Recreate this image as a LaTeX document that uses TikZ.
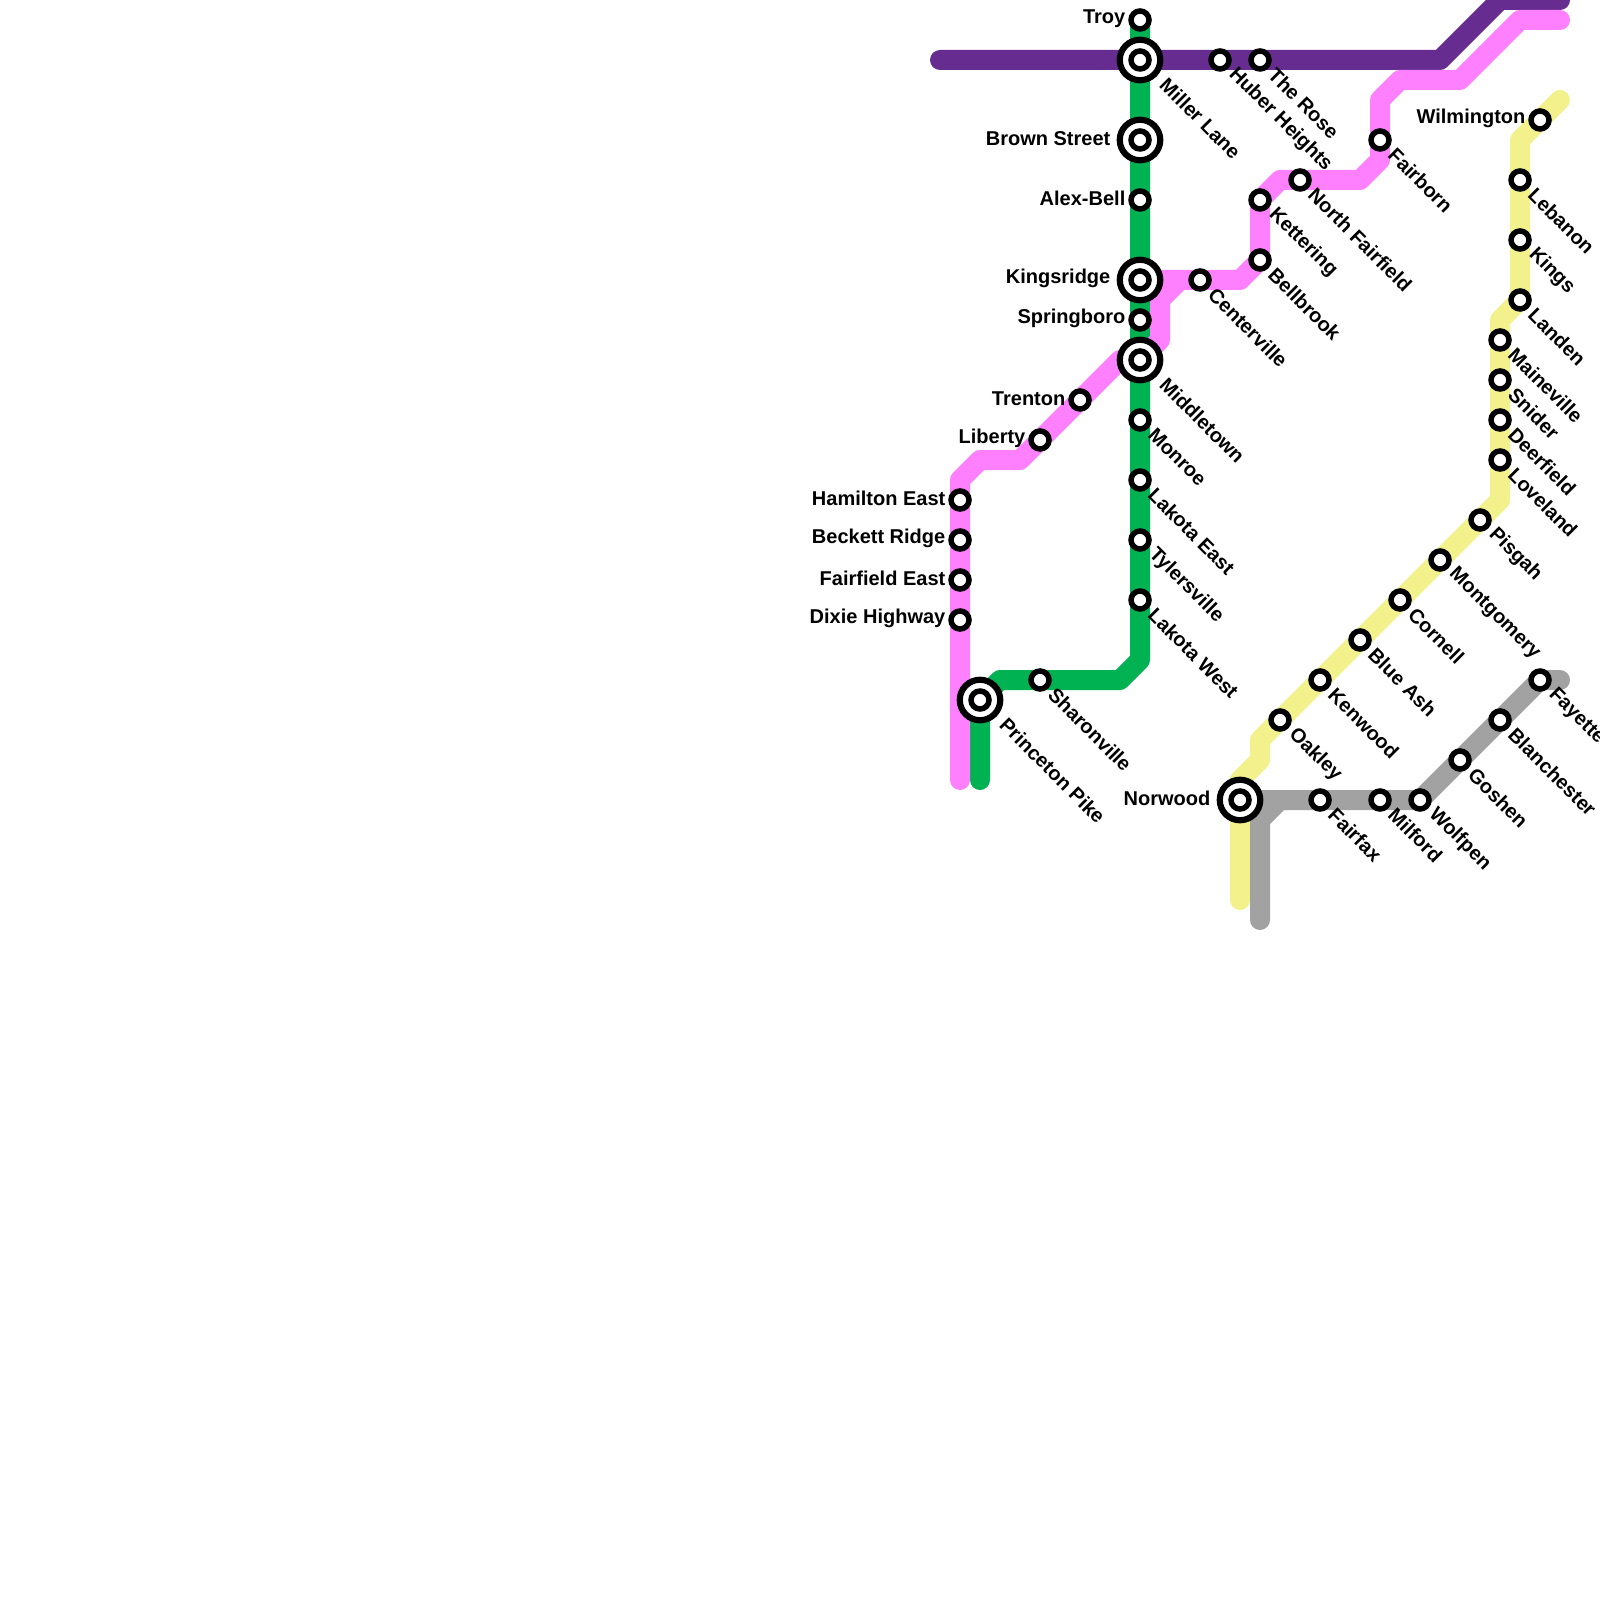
\documentclass[tikz,border=0pt]{standalone}
\usepackage{fontspec}
\setmainfont{Liberation Sans}
\usetikzlibrary{backgrounds}

\definecolor{linePurple}{HTML}{662C90}
\definecolor{lineGreen}{HTML}{00B251}
\definecolor{linePink}{HTML}{FF80FF}
\definecolor{lineGray}{HTML}{A2A2A2}
\definecolor{lineYellow}{HTML}{F3F18C}

\begin{document}
\begin{tikzpicture}[
        x=2mm, y=-2mm,
        stn/.style={circle, draw=black, fill=white, line width=0.55mm, minimum size=1.8mm, inner sep=0pt},
        stnRing/.style={circle, draw=black, fill=white, line width=0.62mm, minimum size=4.05mm, inner sep=0pt},
        lblFont/.style={font=\bfseries\fontsize{5.69pt}{6pt}\selectfont, inner sep=0pt, text=black},
        lblR/.style={lblFont, xshift=1.15mm, yshift=-1.1mm, rotate=-45, anchor=west},
        lblRing/.style={lblFont, xshift=2.3mm, yshift=-2.1mm, rotate=-45, anchor=west},
        lblL/.style={lblFont, xshift=-1.4mm, yshift=0.12mm, anchor=east},
        lblRingL/.style={lblFont, xshift=-2.9mm, yshift=0.12mm, anchor=east},
        metro/.style={line width=2mm, line cap=round, line join=round}
        ]
        \useasboundingbox (0,0) rectangle (80,80);

        % green line
        \node [stn] (troy) at (57,1) {};
        \node [stnRing] (millerRing) at (57,3) {};
        \node [stn] (miller) at (57,3) {};
        \node [stnRing] (brownRing) at (57,7) {};
        \node [stn] (brown) at (57,7) {};
        \node [stn] (alexbell) at (57,10) {};
        \node [stnRing] (kingsridgeRing) at (57,14) {};
        \node [stn] (kingsridge) at (57,14) {};
        \node [stn] (springboro) at (57,16) {};
        \node [stnRing] (middletownRing) at (57,18) {};
        \node [stn] (middletown) at (57,18) {};
        \node [stn] (monroe) at (57,21) {};
        \node [stn] (lakotaE) at (57,24) {};
        \node [stn] (tylersville) at (57,27) {};
        \node [stn] (lakotaW) at (57,30) {};
        \node [stn] (sharonville) at (52,34) {};
        \node [stnRing] (princetonRing) at (49,35) {};
        \node [stn] (princeton) at (49,35) {};

        % purple line
        \node [stn] (huber) at (61,3) {};
        \node [stn] (rose) at (63,3) {};

        % pink line
        \node [stn] (fairborn) at (69,7) {};
        \node [stn] (fairfieldN) at (65,9) {};
        \node [stn] (kettering) at (63,10) {};
        \node [stn] (bellbrook) at (63,13) {};
        \node [stn] (centerville) at (60,14) {};
        \node [stn] (trenton) at (54,20) {};
        \node [stn] (liberty) at (52,22) {};
        \node [stn] (hamilton) at (48,25) {};
        \node [stn] (beckett) at (48,27) {};
        \node [stn] (fairfieldE) at (48,29) {};
        \node [stn] (dixie) at (48,31) {};

        % yellow line
        \node [stn] (wilmington) at (77,6) {};
        \node [stn] (lebanon) at (76,9) {};
        \node [stn] (kings) at (76,12) {};
        \node [stn] (landen) at (76,15) {};
        \node [stn] (maineville) at (75,17) {};
        \node [stn] (snider) at (75,19) {};
        \node [stn] (deerfield) at (75,21) {};
        \node [stn] (loveland) at (75,23) {};
        \node [stn] (pisgah) at (74,26) {};
        \node [stn] (montgomery) at (72,28) {};
        \node [stn] (cornell) at (70,30) {};
        \node [stn] (blueash) at (68,32) {};
        \node [stn] (kenwood) at (66,34) {};
        \node [stn] (oakley) at (64,36) {};
        \node [stnRing] (norwoodRing) at (62,40) {};
        \node [stn] (norwood) at (62,40) {};

        % gray line
        \node [stn] (fairfax) at (66,40) {};
        \node [stn] (milford) at (69,40) {};
        \node [stn] (wolfpen) at (71,40) {};
        \node [stn] (goshen) at (73,38) {};
        \node [stn] (blanchester) at (75,36) {};
        \node [stn] (fayetteville) at (77,34) {};

        \begin{scope}[on background layer]
        \draw[metro, lineGreen] (troy.center) -- (lakotaW.center) -- (57,33) -- (56,34) -- (sharonville.center) -- (50,34) -- (princeton.center) -- (49,39);
        \draw[metro, linePurple] (47,3) -- (miller.center) -- (huber.center) -- (rose.center) -- (72,3) -- (75,0) -- (78,0);
        \draw[metro, linePink] (78,1) -- (76,1) -- (73,4) -- (70,4) -- (69,5) -- (fairborn.center) -- (69,8) -- (68,9) -- (fairfieldN.center) -- (64,9) -- (kettering.center) -- (bellbrook.center) -- (62,14) -- (centerville.center) -- (kingsridge.center);
        \draw[metro, linePink] (59,14) -- (58,15) -- (58,17) -- (middletown.center) -- (56,18) -- (trenton.center) -- (liberty.center) -- (51,23) -- (49,23) -- (48,24) -- (hamilton.center) -- (dixie.center) -- (48,39);
        \draw[metro, lineYellow] (78,5) -- (wilmington.center) -- (76,7) -- (lebanon.center) -- (landen.center) -- (75,16) -- (maineville.center) -- (loveland.center) -- (75,25) -- (pisgah.center) -- (oakley.center) -- (63,37) -- (63,38) -- (62,39) -- (norwood.center) -- (62,45);
        \draw[metro, lineGray] (78,34) -- (fayetteville.center) -- (wolfpen.center) -- (norwood.center);
        \draw[metro, lineGray] (64,40) -- (63,41) -- (63,46);
        \end{scope}

        % labels
        \node [lblL] (troyT) at (troy) {Troy};
        \node [lblRing] (millerT) at (miller) {Miller Lane};
        \node [lblRingL] (brownT) at (brown) {Brown Street};
        \node [lblL] (alexbellT) at (alexbell) {Alex-Bell};
        \node [lblRingL] (kingsridgeT) at (kingsridge) {Kingsridge};
        \node [lblL] (springboroT) at (springboro) {Springboro};
        \node [lblRing] (middletownT) at (middletown) {Middletown};
        \node [lblR] (monroeT) at (monroe) {Monroe};
        \node [lblR] (lakotaET) at (lakotaE) {Lakota East};
        \node [lblR] (tylersvilleT) at (tylersville) {Tylersville};
        \node [lblR] (lakotaWT) at (lakotaW) {Lakota West};
        \node [lblR] (sharonvilleT) at (sharonville) {Sharonville};
        \node [lblRing] (princetonT) at (princeton) {Princeton Pike};
        \node [lblR] (huberT) at (huber) {Huber Heights};
        \node [lblR] (roseT) at (rose) {The Rose};
        \node [lblR] (fairbornT) at (fairborn) {Fairborn};
        \node [lblR] (fairfieldNT) at (fairfieldN) {North Fairfield};
        \node [lblR] (ketteringT) at (kettering) {Kettering};
        \node [lblR] (bellbrookT) at (bellbrook) {Bellbrook};
        \node [lblR] (centervilleT) at (centerville) {Centerville};
        \node [lblL] (trentonT) at (trenton) {Trenton};
        \node [lblL] (libertyT) at (liberty) {Liberty};
        \node [lblL] (hamiltonT) at (hamilton) {Hamilton East};
        \node [lblL] (beckettT) at (beckett) {Beckett Ridge};
        \node [lblL] (fairfieldET) at (fairfieldE) {Fairfield East};
        \node [lblL] (dixieT) at (dixie) {Dixie Highway};
        \node [lblL] (wilmingtonT) at (wilmington) {Wilmington};
        \node [lblR] (lebanonT) at (lebanon) {Lebanon};
        \node [lblR] (kingsT) at (kings) {Kings};
        \node [lblR] (landenT) at (landen) {Landen};
        \node [lblR] (mainevilleT) at (maineville) {Maineville};
        \node [lblR] (sniderT) at (snider) {Snider};
        \node [lblR] (deerfieldT) at (deerfield) {Deerfield};
        \node [lblR] (lovelandT) at (loveland) {Loveland};
        \node [lblR] (pisgahT) at (pisgah) {Pisgah};
        \node [lblR] (montgomeryT) at (montgomery) {Montgomery};
        \node [lblR] (cornellT) at (cornell) {Cornell};
        \node [lblR] (blueashT) at (blueash) {Blue Ash};
        \node [lblR] (kenwoodT) at (kenwood) {Kenwood};
        \node [lblR] (oakleyT) at (oakley) {Oakley};
        \node [lblRingL] (norwoodT) at (norwood) {Norwood};
        \node [lblR] (fairfaxT) at (fairfax) {Fairfax};
        \node [lblR] (milfordT) at (milford) {Milford};
        \node [lblR] (wolfpenT) at (wolfpen) {Wolfpen};
        \node [lblR] (goshenT) at (goshen) {Goshen};
        \node [lblR] (blanchesterT) at (blanchester) {Blanchester};
        \node [lblR] (fayettevilleT) at (fayetteville) {Fayetteville};
    \end{tikzpicture}
\end{document}
